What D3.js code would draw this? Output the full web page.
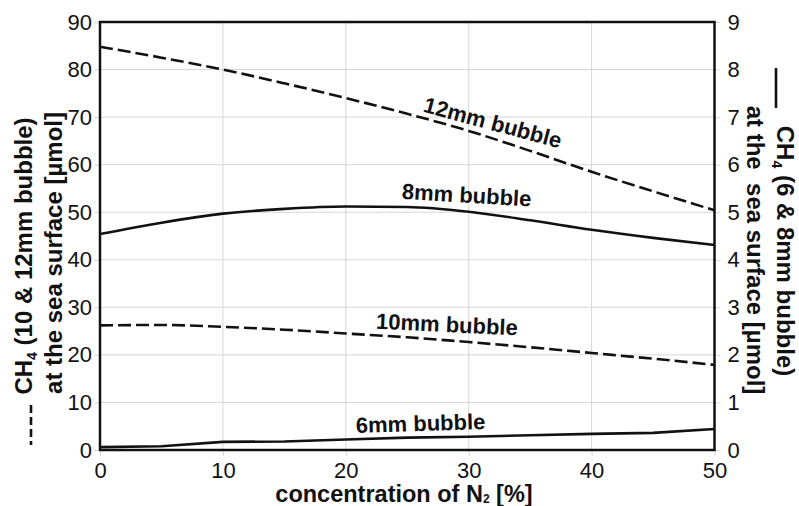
<!DOCTYPE html>
<html>
<head>
<meta charset="utf-8">
<script src="https://cdn.jsdelivr.net/npm/d3@7/dist/d3.min.js"></script>
<style>
  html, body { margin: 0; padding: 0; background: #fff; }
  svg { display: block; font-family: "Liberation Sans", Arial, Helvetica, sans-serif; }
</style>
</head>
<body>
<svg id="chart" width="799" height="506"></svg>
<script>
// N2 concentration in the bubble gas [%]
const nConc = [0, 5, 10, 15, 20, 25, 30, 35, 40, 45, 50];

// CH4 reaching the sea surface [µmol], left axis (10 and 12 mm bubbles)
const ch4_12mm = [84.8, 82.5, 80.0, 77.1, 74.0, 70.7, 67.1, 62.9, 58.5, 54.4, 50.4];
const ch4_10mm = [26.2, 26.3, 25.9, 25.3, 24.5, 23.7, 22.7, 21.6, 20.4, 19.2, 17.9];

// CH4 reaching the sea surface [µmol], right axis (6 and 8 mm bubbles)
const ch4_8mm = [4.54, 4.78, 4.97, 5.07, 5.12, 5.11, 5.01, 4.83, 4.63, 4.46, 4.31];
const ch4_6mm = [0.06, 0.08, 0.17, 0.18, 0.22, 0.26, 0.28, 0.31, 0.34, 0.36, 0.44];

const xTicks = [0, 10, 20, 30, 40, 50];
const yLeftTicks = [0, 10, 20, 30, 40, 50, 60, 70, 80, 90];
const yRightTicks = [0, 1, 2, 3, 4, 5, 6, 7, 8, 9];

const svg = d3.select("#chart");
const plot = { left: 100, right: 714.5, top: 22, bottom: 450 };

const x = d3.scaleLinear().domain([0, 50]).range([plot.left, plot.right]);
const yL = d3.scaleLinear().domain([0, 90]).range([plot.bottom, plot.top]);
const yR = d3.scaleLinear().domain([0, 9]).range([plot.bottom, plot.top]);

const gridColor = "#d6d6d6";
const ink = "#111";

// grid
const grid = svg.append("g");
grid.selectAll("line.h").data(yLeftTicks).join("line")
  .attr("x1", plot.left).attr("x2", plot.right)
  .attr("y1", d => yL(d)).attr("y2", d => yL(d))
  .attr("stroke", gridColor).attr("stroke-width", 1);
grid.selectAll("line.v").data(xTicks).join("line")
  .attr("y1", plot.top).attr("y2", plot.bottom)
  .attr("x1", d => x(d)).attr("x2", d => x(d))
  .attr("stroke", gridColor).attr("stroke-width", 1);

// axes
function styleAxis(g) {
  g.select(".domain").remove();
  g.selectAll(".tick line").attr("stroke", gridColor).attr("stroke-width", 1);
  g.selectAll(".tick text").attr("fill", ink).style("font-size", "22px");
}
svg.append("g").attr("transform", `translate(${plot.left},0)`)
  .call(d3.axisLeft(yL).tickValues(yLeftTicks).tickSize(6).tickPadding(2))
  .call(styleAxis);
svg.append("g").attr("transform", `translate(${plot.right},0)`)
  .call(d3.axisRight(yR).tickValues(yRightTicks).tickSize(6).tickPadding(7))
  .call(styleAxis);
svg.append("g").attr("transform", `translate(0,${plot.bottom})`)
  .call(d3.axisBottom(x).tickValues(xTicks).tickSize(6).tickPadding(6))
  .call(styleAxis);

// series
const lineL = d3.line().x((d, i) => x(nConc[i])).y(d => yL(d)).curve(d3.curveMonotoneX);
const lineR = d3.line().x((d, i) => x(nConc[i])).y(d => yR(d)).curve(d3.curveMonotoneX);
const lineRLin = d3.line().x((d, i) => x(nConc[i])).y(d => yR(d));

const series = svg.append("g").attr("fill", "none").attr("stroke", ink).attr("stroke-width", 2.6);
series.append("path").attr("d", lineL(ch4_12mm)).attr("stroke-dasharray", "13,5");
series.append("path").attr("d", lineL(ch4_10mm)).attr("stroke-dasharray", "13,5");
series.append("path").attr("d", lineR(ch4_8mm));
series.append("path").attr("d", lineRLin(ch4_6mm));

// frame
svg.append("rect")
  .attr("x", plot.left).attr("y", plot.top)
  .attr("width", plot.right - plot.left).attr("height", plot.bottom - plot.top)
  .attr("fill", "none").attr("stroke", ink).attr("stroke-width", 2.5);

// curve labels
const labels = [
  { text: "12mm bubble", n: 31.8, v: 6.73, angle: 15 },
  { text: "8mm bubble", n: 29.8, v: 5.2, angle: 3.4 },
  { text: "10mm bubble", n: 28.2, v: 2.48, angle: 2.7 },
  { text: "6mm bubble", n: 26.1, v: 0.4, angle: -1.7 }
];
svg.append("g").selectAll("text").data(labels).join("text")
  .attr("transform", d => `translate(${x(d.n)},${yR(d.v)}) rotate(${d.angle})`)
  .attr("text-anchor", "middle")
  .attr("fill", ink)
  .style("font-size", "22px").style("font-weight", "bold")
  .text(d => d.text);

// x axis title
const xt = svg.append("text")
  .attr("x", 404).attr("y", 501.5)
  .attr("text-anchor", "middle").attr("fill", ink)
  .style("font-size", "23.5px").style("font-weight", "bold");
xt.append("tspan").text("concentration of N");
xt.append("tspan").attr("dy", 1.5).style("font-size", "12px").text("2");
xt.append("tspan").attr("dy", -1.5).text(" [%]");

// left axis title (dashed series)
function ch4Line(g, after) {
  g.append("tspan").text("CH");
  g.append("tspan").attr("dy", 5).style("font-size", "14px").text("4");
  g.append("tspan").attr("dy", -5).text(after);
}
const lt1 = svg.append("text")
  .attr("transform", "translate(32,256) rotate(-90)")
  .attr("text-anchor", "middle").attr("fill", ink)
  .style("font-size", "24px").style("font-weight", "bold");
ch4Line(lt1, " (10 & 12mm bubble)");
svg.append("text")
  .attr("transform", "translate(62,253) rotate(-90)")
  .attr("text-anchor", "middle").attr("fill", ink)
  .style("font-size", "24px").style("font-weight", "bold")
  .text("at the sea surface [µmol]");
svg.append("line")
  .attr("x1", 31).attr("x2", 31).attr("y1", 405).attr("y2", 445)
  .attr("stroke", ink).attr("stroke-width", 2.6).attr("stroke-dasharray", "8,4");

// right axis title (solid series)
const rt1 = svg.append("text")
  .attr("transform", "translate(777,251) rotate(90)")
  .attr("text-anchor", "middle").attr("fill", ink)
  .style("font-size", "24px").style("font-weight", "bold");
ch4Line(rt1, " (6 & 8mm bubble)");
svg.append("text")
  .attr("transform", "translate(747,250) rotate(90)")
  .attr("text-anchor", "middle").attr("fill", ink)
  .style("font-size", "24px").style("font-weight", "bold")
  .style("white-space", "pre")
  .text("at the  sea surface [µmol]");
svg.append("line")
  .attr("x1", 776).attr("x2", 776).attr("y1", 68).attr("y2", 108)
  .attr("stroke", ink).attr("stroke-width", 2.6);
</script>
</body>
</html>
